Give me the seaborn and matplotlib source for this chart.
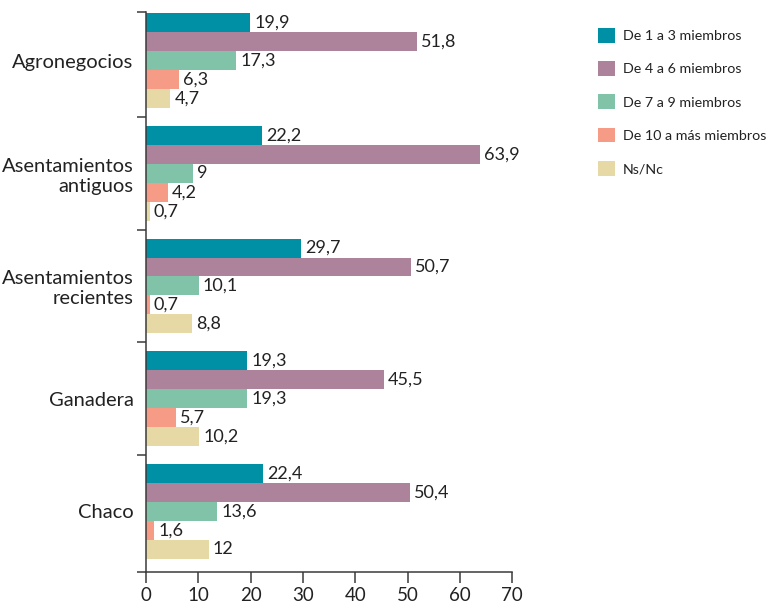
import seaborn as sns
import matplotlib.pyplot as plt
import pandas as pd

zonas = ['Agronegocios', 'Asentamientos\nantiguos', 'Asentamientos\nrecientes', 'Ganadera', 'Chaco']
grupos = ['De 1 a 3 miembros', 'De 4 a 6 miembros', 'De 7 a 9 miembros',
          'De 10 a más miembros', 'Ns/Nc']
v_1a3 = [19.9, 22.2, 29.7, 19.3, 22.4]
v_4a6 = [51.8, 63.9, 50.7, 45.5, 50.4]
v_7a9 = [17.3, 9, 10.1, 19.3, 13.6]
v_10mas = [6.3, 4.2, 0.7, 5.7, 1.6]
v_nsnc = [4.7, 0.7, 8.8, 10.2, 12]
colores = ['#0090A6', '#AD829B', '#80C3A9', '#F59B86', '#E6D9A6']

series = [v_1a3, v_4a6, v_7a9, v_10mas, v_nsnc]
rows = []
for g, vals in zip(grupos, series):
    for z, v in zip(zonas, vals):
        rows.append({'zona': z, 'grupo': g, 'valor': v})
df = pd.DataFrame(rows)

sns.set_theme(style='white')
plt.rcParams['font.family'] = ['Lato', 'DejaVu Sans']
dark = '#3a3a3a'

fig = plt.figure(figsize=(7.76, 6.08), dpi=100)
ax = fig.add_axes([0.188, 0.059, 0.472, 0.921])

sns.barplot(data=df, y='zona', x='valor', hue='grupo', orient='h',
            palette=colores, saturation=1, width=0.84, linewidth=0,
            order=zonas, hue_order=grupos, ax=ax)

for cont in ax.containers:
    labs = [f'{b.get_width():g}'.replace('.', ',') for b in cont]
    ax.bar_label(cont, labels=labs, padding=3, fontsize=13, color='#222222')

ax.set_xlim(0, 70)
ax.set_ylim(4.54, -0.43)
ax.set_xticks(range(0, 71, 10))
ax.set_xlabel('')
ax.set_ylabel('')
ax.set_yticks([-0.43, 0.5, 1.5, 2.5, 3.5, 4.54], minor=True)
ax.tick_params(axis='y', which='major', length=0, pad=9, labelsize=14.5, labelcolor='#222222')
ax.tick_params(axis='y', which='minor', length=6.5, width=1.1, color=dark, left=True)
ax.tick_params(axis='x', which='major', length=8, width=1.1, color=dark, bottom=True,
               labelsize=13.5, labelcolor='#222222', pad=3)
for s in ['top', 'right']:
    ax.spines[s].set_visible(False)
for s in ['left', 'bottom']:
    ax.spines[s].set_color(dark)
    ax.spines[s].set_linewidth(1.1)

h, l = ax.get_legend_handles_labels()
ax.legend(h, l, loc='upper left', bbox_to_anchor=(0.771, 0.954), bbox_transform=fig.transFigure,
          frameon=False, fontsize=10.3, handlelength=1.2, handleheight=1.2,
          handletextpad=0.5, labelspacing=1.3, labelcolor='#222222',
          borderpad=0, borderaxespad=0)

plt.savefig('out.png', dpi=100)
